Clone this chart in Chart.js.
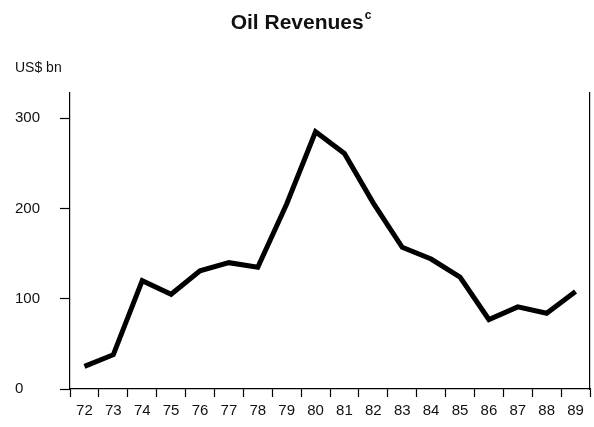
<!DOCTYPE html>
<html>
<head>
<meta charset="utf-8">
<script src="https://cdn.jsdelivr.net/npm/chart.js@4/dist/chart.umd.min.js"></script>
<style>
  html, body { margin: 0; padding: 0; background: #fff; }
  #wrap { width: 594px; height: 427px; }
</style>
</head>
<body>
<div id="wrap"><canvas id="chart" width="594" height="427"></canvas></div>
<script>
// Oil revenues, US$ bn, 1972-89
const years = ['72', '73', '74', '75', '76', '77', '78', '79', '80', '81', '82', '83', '84', '85', '86', '87', '88', '89'];
const revenues = [25, 38, 120, 105, 131, 140, 135, 205, 285, 261, 206, 157, 144, 124, 77, 91, 84, 108];
const yTicks = [0, 100, 200, 300];

const titleText = 'Oil Revenues';
const titleSup = 'c';
const unitText = 'US$ bn';

const FONT = '"Liberation Sans", Arial, Helvetica, sans-serif';
const INK = '#111';

// title with superscript + unit label above the axis
const textPlugin = {
  id: 'textPlugin',
  afterDraw(chart) {
    const ctx = chart.ctx;
    ctx.save();
    ctx.fillStyle = INK;
    ctx.textBaseline = 'alphabetic';

    ctx.font = 'bold 21px ' + FONT;
    const w1 = ctx.measureText(titleText).width;
    ctx.font = 'bold 12px ' + FONT;
    const w2 = ctx.measureText(titleSup).width;
    const x0 = 301 - (w1 + w2 + 1) / 2;
    ctx.font = 'bold 21px ' + FONT;
    ctx.textAlign = 'left';
    ctx.fillText(titleText, x0, 28.5);
    ctx.font = 'bold 12px ' + FONT;
    ctx.fillText(titleSup, x0 + w1 + 1, 18.5);

    ctx.font = '14px ' + FONT;
    ctx.fillText(unitText, 15, 72);
    ctx.restore();
  }
};

new Chart(document.getElementById('chart'), {
  type: 'line',
  data: {
    labels: years,
    datasets: [{
      label: 'Oil Revenues',
      data: revenues,
      borderColor: '#000',
      borderWidth: 5,
      borderJoinStyle: 'miter',
      borderCapStyle: 'butt',
      pointRadius: 0,
      tension: 0,
      fill: false
    }]
  },
  options: {
    responsive: false,
    animation: false,
    layout: { padding: { left: 15, right: 4, top: 93, bottom: 6 } },
    plugins: {
      legend: { display: false },
      title: { display: false },
      tooltip: { enabled: false }
    },
    scales: {
      x: {
        type: 'category',
        offset: true,
        grid: {
          offset: true,
          drawOnChartArea: false,
          tickLength: 8,
          tickColor: '#000',
          tickWidth: 1.2
        },
        border: { display: true, color: '#000', width: 1.2 },
        ticks: {
          color: INK,
          font: { family: FONT, size: 15 },
          padding: 5,
          maxRotation: 0,
          autoSkip: false
        },
        afterFit(scale) { scale.height = 32; }
      },
      y: {
        min: 0,
        max: 328,
        afterBuildTicks(scale) { scale.ticks = yTicks.map(v => ({ value: v })); },
        grid: {
          drawOnChartArea: false,
          tickLength: 10,
          tickColor: '#000',
          tickWidth: 1.2
        },
        border: { display: true, color: '#000', width: 1.2 },
        ticks: {
          color: INK,
          crossAlign: 'far',
          font: { family: FONT, size: 15 },
          padding: 4
        },
        afterFit(scale) { scale.width = 55; }
      },
      yR: {
        position: 'right',
        display: true,
        min: 0,
        max: 328,
        grid: { display: false },
        ticks: { display: false },
        border: { display: true, color: '#000', width: 1.2 },
        afterFit(scale) { scale.width = 0; }
      }
    }
  },
  plugins: [textPlugin]
});
</script>
</body>
</html>
